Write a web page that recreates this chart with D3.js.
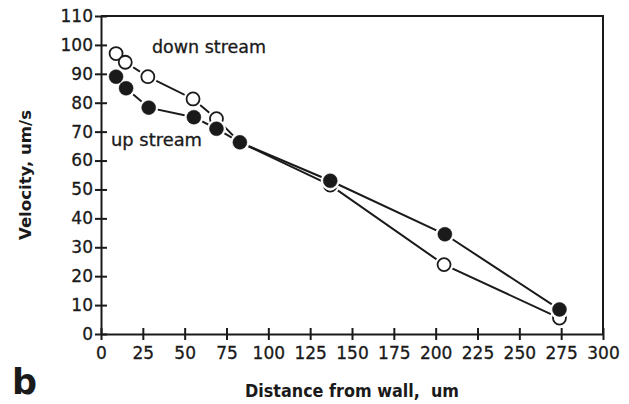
<!DOCTYPE html>
<html>
<head>
<meta charset="utf-8">
<script src="https://cdn.jsdelivr.net/npm/d3@7"></script>
<style>
  html, body { margin: 0; padding: 0; background: #fff; }
  svg { display: block; }
  text { font-family: "DejaVu Sans", sans-serif; fill: #1a1a1a; }
</style>
</head>
<body>
<svg id="chart" width="629" height="404"></svg>
<script>
// Distance from the wall (um) for each measurement point
const downDistance = [9, 14.5, 28, 55, 69, 83, 137, 205, 274];
const downVelocity = [97, 94, 89, 81.3, 74.5, 66.3, 51.5, 24, 5.5];
const upDistance = [9, 15, 28.5, 55.5, 69, 83, 137, 205.5, 274];
const upVelocity = [89, 85, 78.3, 75, 71, 66.3, 53, 34.5, 8.5];

const xTicks = [0, 25, 50, 75, 100, 125, 150, 175, 200, 225, 250, 275, 300];
const yTicks = [0, 10, 20, 30, 40, 50, 60, 70, 80, 90, 100, 110];

const ink = "#1a1a1a";
const svg = d3.select("#chart");

const x = d3.scaleLinear().domain([0, 300]).range([101, 603]);
const y = d3.scaleLinear().domain([0, 110]).range([334, 16]);

// frame: top and right borders
svg.append("path")
  .attr("d", `M${x(0)},${y(110)}H${x(300)}V${y(0)}`)
  .attr("fill", "none").attr("stroke", ink).attr("stroke-width", 2);

// axes with ticks crossing the axis line
const xAxis = svg.append("g").attr("transform", `translate(0,${y(0)})`)
  .call(d3.axisBottom(x).tickValues(xTicks).tickSize(0).tickPadding(13).tickFormat(d3.format("d")));
xAxis.select(".domain").attr("stroke", ink).attr("stroke-width", 2);
xAxis.selectAll(".tick").append("line").attr("y1", -6).attr("y2", 6)
  .attr("stroke", ink).attr("stroke-width", 2);
xAxis.selectAll(".tick text").attr("font-size", 17).attr("fill", ink)
  .attr("font-family", "DejaVu Sans").attr("stroke", ink).attr("stroke-width", 0.3);

const yAxis = svg.append("g").attr("transform", `translate(${x(0)},0)`)
  .call(d3.axisLeft(y).tickValues(yTicks).tickSize(0).tickPadding(8).tickFormat(d3.format("d")));
yAxis.select(".domain").attr("stroke", ink).attr("stroke-width", 2);
yAxis.selectAll(".tick").append("line").attr("x1", -6).attr("x2", 6)
  .attr("stroke", ink).attr("stroke-width", 2);
yAxis.selectAll(".tick text").attr("font-size", 17).attr("fill", ink)
  .attr("font-family", "DejaVu Sans").attr("stroke", ink).attr("stroke-width", 0.3);

const downPts = downDistance.map((d, i) => [d, downVelocity[i]]);
const upPts = upDistance.map((d, i) => [d, upVelocity[i]]);

const line = d3.line().x(d => x(d[0])).y(d => y(d[1]));

function drawSeries(pts, filled) {
  svg.append("path").datum(pts).attr("d", line)
    .attr("fill", "none").attr("stroke", ink).attr("stroke-width", 2);
  const g = svg.append("g");
  // white halo around each marker
  g.selectAll("circle.halo").data(pts).join("circle").attr("class", "halo")
    .attr("cx", d => x(d[0])).attr("cy", d => y(d[1])).attr("r", 9.5)
    .attr("fill", "#fff");
  g.selectAll("circle.mark").data(pts).join("circle").attr("class", "mark")
    .attr("cx", d => x(d[0])).attr("cy", d => y(d[1]))
    .attr("r", filled ? 7 : 6.5)
    .attr("fill", filled ? ink : "#fff")
    .attr("stroke", ink).attr("stroke-width", filled ? 0.5 : 1.8);
}
drawSeries(downPts, false);
drawSeries(upPts, true);

// series labels
svg.append("text").attr("x", 152).attr("y", 53).attr("font-size", 17)
  .attr("stroke", ink).attr("stroke-width", 0.3)
  .attr("textLength", 114).attr("lengthAdjust", "spacingAndGlyphs").text("down stream");
svg.append("text").attr("x", 111).attr("y", 146).attr("font-size", 17)
  .attr("stroke", ink).attr("stroke-width", 0.3)
  .attr("textLength", 91).attr("lengthAdjust", "spacingAndGlyphs").text("up stream");

// axis titles
svg.append("text").attr("x", 245).attr("y", 397).attr("font-size", 17)
  .attr("font-weight", "bold").style("white-space", "pre")
  .attr("textLength", 214).attr("lengthAdjust", "spacingAndGlyphs")
  .text("Distance from wall,  um");
svg.append("text").attr("transform", "translate(31,175) rotate(-90)")
  .attr("text-anchor", "middle").attr("font-size", 16).attr("font-weight", "bold")
  .attr("textLength", 130).attr("lengthAdjust", "spacingAndGlyphs")
  .text("Velocity, um/s");

// panel letter
svg.append("text").attr("x", 12).attr("y", 394).attr("font-size", 35)
  .attr("font-weight", "bold").text("b");
</script>
</body>
</html>
